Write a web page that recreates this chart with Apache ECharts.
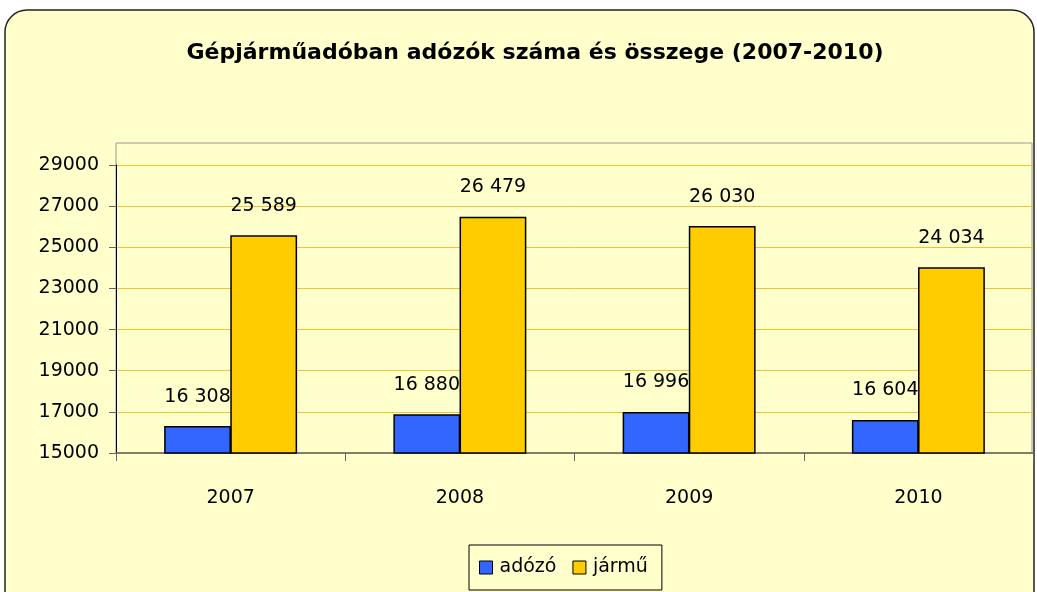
<!DOCTYPE html>
<html><head><meta charset="utf-8">
<script src="https://cdn.jsdelivr.net/npm/echarts@6/dist/echarts.min.js"></script>
<style>html,body{margin:0;padding:0;background:#fff}#c{width:1037px;height:592px}</style>
</head><body><div id="c"></div>
<script>
const titleText = 'Gépjárműadóban adózók száma és összege (2007-2010)';
const categories = ['2007', '2008', '2009', '2010'];
const adozo = [16308, 16880, 16996, 16604];
const jarmu = [25589, 26479, 26030, 24034];
const seriesNames = ['adózó', 'jármű'];

const font = 'DejaVu Sans';
const fmt = v => String(v).replace(/\B(?=(\d{3})+(?!\d))/g, ' ');
const chart = echarts.init(document.getElementById('c'), null, {renderer: 'canvas'});
chart.setOption({
  backgroundColor: '#ffffff',
  animation: false,
  graphic: [
    {type: 'rect', z: -10, shape: {x: 5, y: 10, width: 1029, height: 620, r: 22},
     style: {fill: '#FFFFCC', stroke: '#222', lineWidth: 1.5}},
    {type: 'rect', z: -5, shape: {x: 116, y: 143, width: 916, height: 310},
     style: {fill: 'none', stroke: '#999', lineWidth: 1}},
  ],
  title: {text: titleText, left: 530, top: 37, textAlign: 'center',
    textStyle: {fontFamily: font, fontWeight: 'bold', fontSize: 22, color: '#000'}},
  legend: {top: 545, left: 469, itemWidth: 13, itemHeight: 13, itemGap: 16,
    padding: [13, 14, 13, 10], borderColor: '#000', borderWidth: 1,
    icon: 'rect', data: seriesNames,
    itemStyle: {borderColor: '#000', borderWidth: 1},
    textStyle: {fontFamily: font, fontSize: 19, color: '#000', padding: [0, 0, 0, 2]}},
  grid: {left: 116, right: 4, top: 165, bottom: 139, containLabel: false},
  xAxis: {type: 'category', data: categories,
    axisLine: {lineStyle: {color: '#666', width: 1.5}},
    axisTick: {show: true, length: 8, lineStyle: {color: '#666'}},
    axisLabel: {fontFamily: font, fontSize: 19, color: '#000', margin: 36}},
  yAxis: {type: 'value', min: 15000, max: 29000, interval: 2000,
    axisLine: {show: true, lineStyle: {color: '#000', width: 1}},
    axisTick: {show: true, length: 7, lineStyle: {color: '#666'}},
    axisLabel: {fontFamily: font, fontSize: 19, color: '#000', margin: 17, formatter: v => String(v)},
    splitLine: {lineStyle: {color: '#F2C230', width: 1}}},
  series: [
    {name: seriesNames[0], type: 'bar', data: adozo, barGap: '-1%', barCategoryGap: '42%',
     itemStyle: {color: '#3366FF', borderColor: '#000', borderWidth: 1.5},
     label: {show: true, position: 'top', distance: 20, formatter: p => fmt(p.value),
       fontFamily: font, fontSize: 19, color: '#000'}},
    {name: seriesNames[1], type: 'bar', data: jarmu,
     itemStyle: {color: '#FFCC00', borderColor: '#000', borderWidth: 1.5},
     label: {show: true, position: 'top', distance: 20, formatter: p => fmt(p.value),
       fontFamily: font, fontSize: 19, color: '#000'}}
  ]
});
</script></body></html>
